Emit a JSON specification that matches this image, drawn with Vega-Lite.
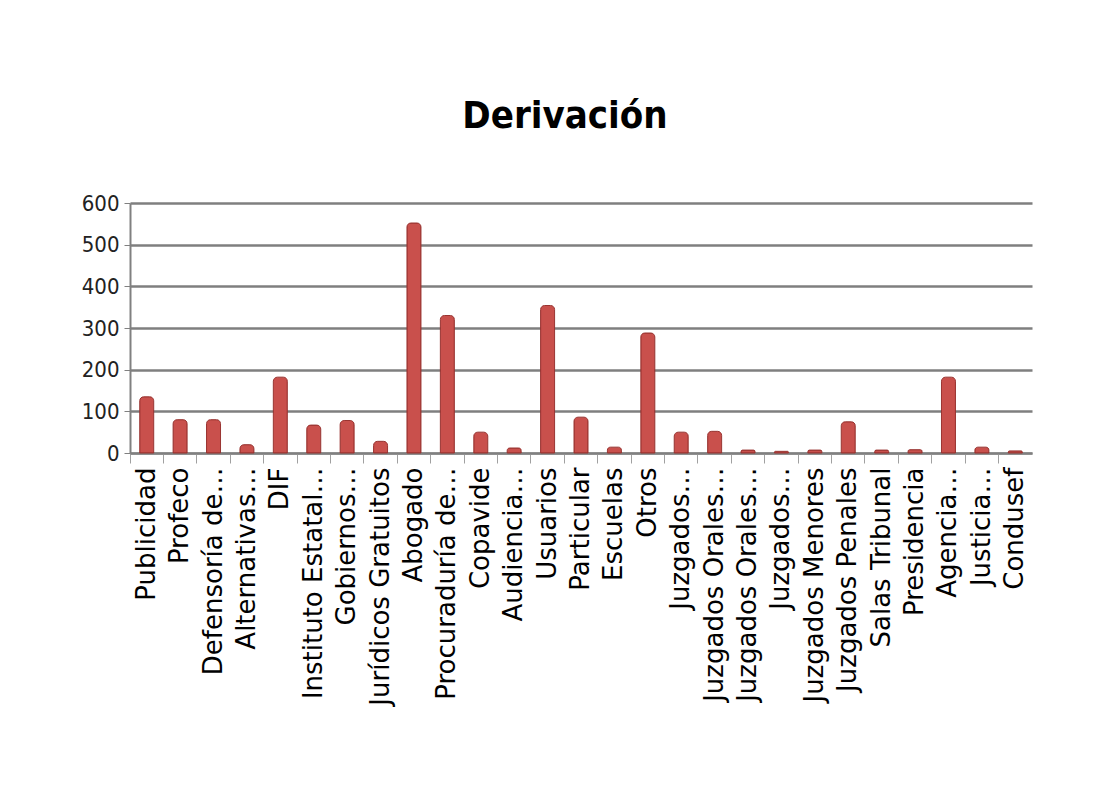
{
  "$schema": "https://vega.github.io/schema/vega-lite/v6.json",
  "autosize": {"type": "none"},
  "width": 902,
  "height": 250,
  "padding": {"left": 130, "top": 203, "right": 76, "bottom": 332},
  "background": "white",
  "title": {
    "text": "Derivación",
    "font": "DejaVu Sans Condensed, DejaVu Sans, sans-serif",
    "fontSize": 38,
    "fontWeight": "bold",
    "color": "#000000",
    "anchor": "middle",
    "baseline": "alphabetic",
    "offset": 26,
    "dx": -16
  },
  "data": {
    "values": [
      {"categoria": "Publicidad", "valor": 135},
      {"categoria": "Profeco", "valor": 80},
      {"categoria": "Defensoría de…", "valor": 80},
      {"categoria": "Alternativas…", "valor": 20},
      {"categoria": "DIF", "valor": 182},
      {"categoria": "Instituto Estatal…", "valor": 67},
      {"categoria": "Gobiernos…", "valor": 78},
      {"categoria": "Jurídicos Gratuitos", "valor": 28},
      {"categoria": "Abogado", "valor": 552},
      {"categoria": "Procuraduría de…", "valor": 330},
      {"categoria": "Copavide", "valor": 50},
      {"categoria": "Audiencia…", "valor": 12},
      {"categoria": "Usuarios", "valor": 354},
      {"categoria": "Particular", "valor": 86},
      {"categoria": "Escuelas", "valor": 14},
      {"categoria": "Otros", "valor": 288},
      {"categoria": "Juzgados…", "valor": 50},
      {"categoria": "Juzgados Orales…", "valor": 52},
      {"categoria": "Juzgados Orales…\u200b", "valor": 7},
      {"categoria": "Juzgados…\u200b", "valor": 4},
      {"categoria": "Juzgados Menores", "valor": 7},
      {"categoria": "Juzgados Penales", "valor": 75},
      {"categoria": "Salas Tribunal", "valor": 7},
      {"categoria": "Presidencia", "valor": 8},
      {"categoria": "Agencia…", "valor": 182},
      {"categoria": "Justicia…", "valor": 14},
      {"categoria": "Condusef", "valor": 5}
    ]
  },
  "mark": {
    "type": "bar",
    "width": 14,
    "color": "#C9504C",
    "stroke": "#9A3431",
    "strokeWidth": 1,
    "cornerRadiusTopLeft": 4,
    "cornerRadiusTopRight": 4
  },
  "encoding": {
    "x": {
      "field": "categoria",
      "type": "nominal",
      "sort": null,
      "scale": {"paddingInner": 0, "paddingOuter": 0},
      "axis": {
        "title": null,
        "labelAngle": -90,
        "labelFont": "DejaVu Sans",
        "labelFontSize": 26,
        "labelColor": "#000000",
        "labelLimit": 400,
        "labelPadding": 4,
        "bandPosition": 0,
        "tickSize": 10,
        "tickColor": "#A0A0A0",
        "tickWidth": 1,
        "domainColor": "#808080",
        "domainWidth": 2,
        "grid": false
      }
    },
    "y": {
      "field": "valor",
      "type": "quantitative",
      "scale": {"domain": [0, 600], "nice": false},
      "axis": {
        "title": null,
        "values": [0, 100, 200, 300, 400, 500, 600],
        "labelFont": "DejaVu Sans Condensed, DejaVu Sans, sans-serif",
        "labelFontSize": 22,
        "labelColor": "#222222",
        "labelPadding": 5,
        "tickSize": 6,
        "tickColor": "#808080",
        "domainColor": "#808080",
        "domainWidth": 2,
        "grid": true,
        "gridColor": "#7F7F7F",
        "gridWidth": 2.5
      }
    }
  },
  "config": {
    "view": {"stroke": null}
  }
}
